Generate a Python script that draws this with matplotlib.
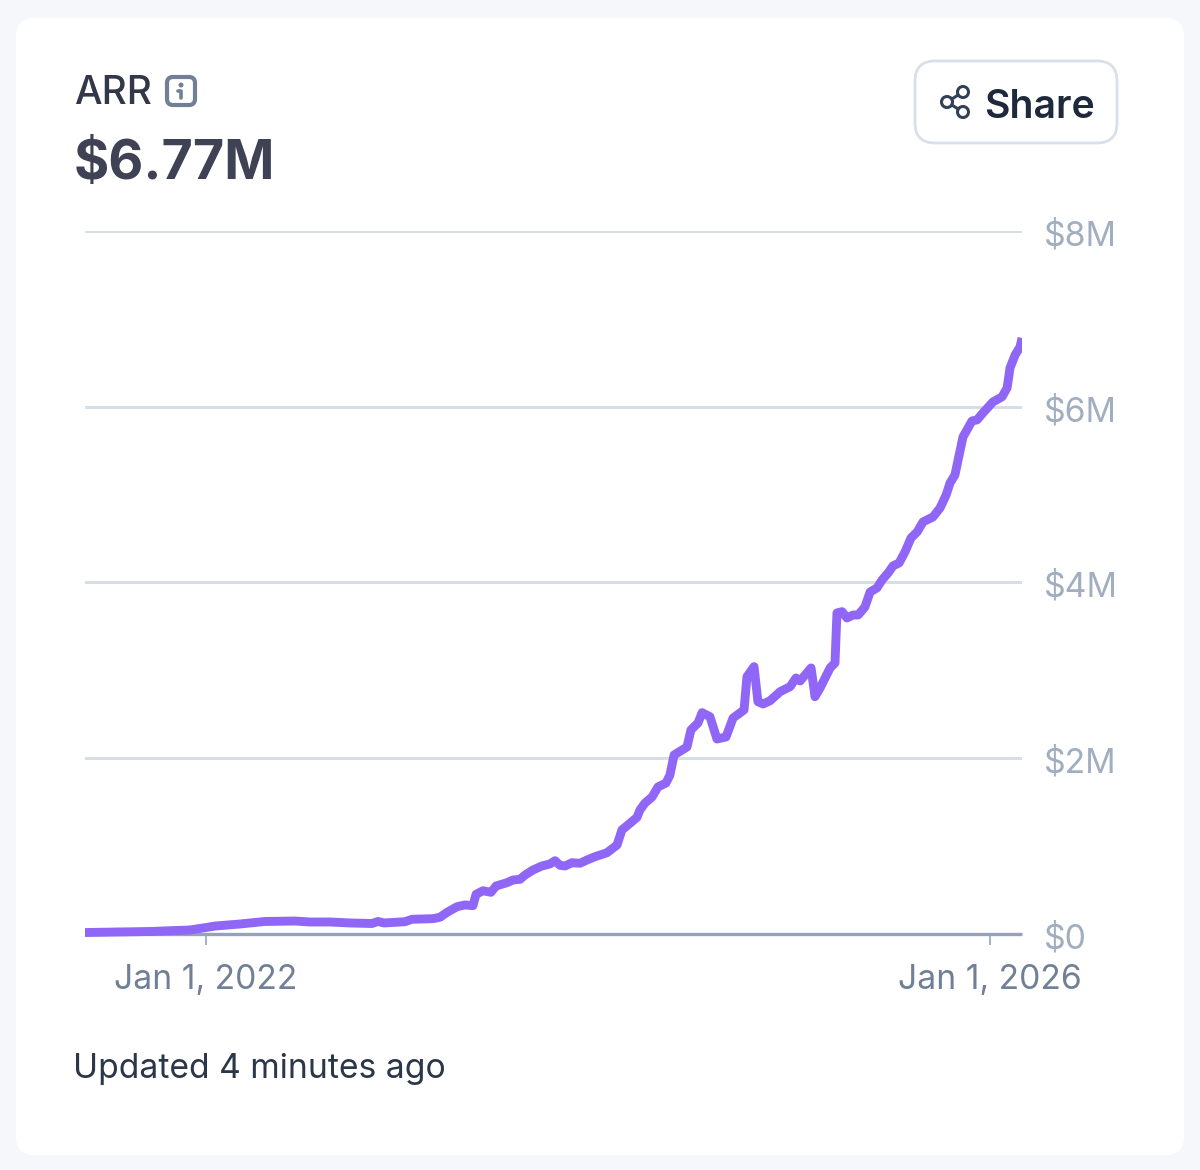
import matplotlib
matplotlib.use('Agg')
import matplotlib.pyplot as plt
from matplotlib.patches import FancyBboxPatch, Circle, Rectangle
from matplotlib.transforms import ScaledTranslation

plt.rcParams['font.family'] = ['Inter', 'DejaVu Sans']

# date as decimal year, ARR in $M
years = [2021.383, 2021.714, 2021.918, 2022.0, 2022.046, 2022.173, 2022.301, 2022.454, 2022.531,
         2022.633, 2022.735, 2022.847, 2022.878, 2022.908, 2023.015, 2023.051, 2023.158, 2023.194,
         2023.230, 2023.281, 2023.321, 2023.362, 2023.378, 2023.413, 2023.454, 2023.480, 2023.536,
         2023.566, 2023.602, 2023.628, 2023.668, 2023.714, 2023.755, 2023.781, 2023.806, 2023.832,
         2023.867, 2023.908, 2023.944, 2023.985, 2024.026, 2024.046, 2024.097, 2024.122, 2024.153,
         2024.199, 2024.214, 2024.240, 2024.276, 2024.306, 2024.347, 2024.367, 2024.388, 2024.454,
         2024.474, 2024.510, 2024.531, 2024.571, 2024.607, 2024.653, 2024.689, 2024.745, 2024.760,
         2024.796, 2024.816, 2024.842, 2024.878, 2024.929, 2024.980, 2025.010, 2025.031, 2025.087,
         2025.107, 2025.133, 2025.184, 2025.209, 2025.219, 2025.245, 2025.270, 2025.301, 2025.327,
         2025.362, 2025.388, 2025.423, 2025.449, 2025.480, 2025.505, 2025.536, 2025.566, 2025.597,
         2025.628, 2025.658, 2025.709, 2025.745, 2025.776, 2025.796, 2025.821, 2025.837, 2025.862,
         2025.908, 2025.934, 2025.964, 2026.015, 2026.061, 2026.087, 2026.102, 2026.128, 2026.153,
         2026.163]
arr = [0.011, 0.023, 0.040, 0.068, 0.085, 0.108, 0.137, 0.142, 0.131,
       0.131, 0.120, 0.114, 0.137, 0.120, 0.134, 0.162, 0.169, 0.185,
       0.241, 0.305, 0.325, 0.317, 0.446, 0.487, 0.469, 0.541, 0.579,
       0.609, 0.617, 0.666, 0.723, 0.769, 0.792, 0.829, 0.777, 0.769,
       0.806, 0.800, 0.837, 0.875, 0.905, 0.920, 1.008, 1.179, 1.236,
       1.323, 1.407, 1.486, 1.555, 1.669, 1.714, 1.805, 2.033, 2.124,
       2.318, 2.397, 2.515, 2.469, 2.215, 2.238, 2.454, 2.546, 2.925,
       3.039, 2.640, 2.614, 2.651, 2.754, 2.811, 2.910, 2.876, 3.024,
       2.697, 2.796, 3.024, 3.081, 3.650, 3.665, 3.593, 3.627, 3.627,
       3.719, 3.889, 3.935, 4.026, 4.106, 4.186, 4.220, 4.345, 4.505,
       4.573, 4.687, 4.744, 4.846, 4.994, 5.131, 5.222, 5.393, 5.655,
       5.837, 5.849, 5.929, 6.054, 6.111, 6.213, 6.441, 6.589, 6.680,
       6.782]

y_ticks = [0, 2, 4, 6, 8]
y_labels = ['$0', '$2M', '$4M', '$6M', '$8M']
x_ticks = [2022, 2026]
x_labels = ['Jan 1, 2022', 'Jan 1, 2026']

W, H = 1200, 1170
fig = plt.figure(figsize=(W / 100, H / 100), dpi=100, facecolor='#f5f7fb')

# full figure overlay in pixels for the card and header
bg = fig.add_axes([0, 0, 1, 1], zorder=0)
bg.set_xlim(0, W)
bg.set_ylim(H, 0)
bg.axis('off')

bg.add_patch(FancyBboxPatch((16, 18), 1168, 1137, boxstyle='round,pad=0,rounding_size=18',
                            fc='white', ec='none'))

bg.text(74, 93.5, 'ARR', fontsize=28, color='#33374a', fontweight='medium', va='center', ha='left')
bg.text(73.5, 164, '$6.77M', fontsize=38.8, color='#3f4254', fontweight='bold', va='center', ha='left')

# info icon
bg.add_patch(FancyBboxPatch((167, 77), 28, 28, boxstyle='round,pad=0,rounding_size=6',
                            fc='white', ec='#718096', lw=3))
bg.add_patch(Circle((181, 85), 2.5, fc='#718096', ec='none'))
bg.plot([178, 181, 181], [91, 91, 98], color='#718096', lw=2.6, solid_capstyle='round')

# share button
bg.add_patch(FancyBboxPatch((915, 61), 202, 82, boxstyle='round,pad=0,rounding_size=20',
                            fc='white', ec='#d8e0e9', lw=2))
bg.plot([963, 947, 963], [92, 102, 112], color='#334155', lw=2.2)
for cx, cy in [(963, 92), (947, 102), (963, 112)]:
    bg.add_patch(Circle((cx, cy), 5.5, fc='white', ec='#334155', lw=2.2, zorder=3))
bg.text(984, 107, 'Share', fontsize=28.2, color='#1e293b', fontweight='semibold', va='center', ha='left')

bg.text(73, 1069, 'Updated 4 minutes ago', fontsize=24.2, color='#2b3648', va='center', ha='left')

# chart
ax = fig.add_axes([85 / W, 1 - 933.5 / H, (1022 - 85) / W, (933.5 - 231) / H], zorder=1)
ax.patch.set_alpha(0)
ax.set_xlim(2021.383, 2026.163)
ax.set_ylim(0, 8)

for side in ['top', 'left', 'right']:
    ax.spines[side].set_visible(False)
ax.spines['bottom'].set_color('#94a3b8')
ax.spines['bottom'].set_linewidth(2.4)
ax.spines['bottom'].set_capstyle('butt')

ax.yaxis.tick_right()
ax.set_yticks(y_ticks)
ax.set_yticklabels(y_labels, fontsize=24.3, color='#a0aec0')
ax.tick_params(axis='y', length=0, pad=16)
ax.grid(axis='y', color='#d5dee7', linewidth=2.1)
ax.set_axisbelow(True)
# labels sit a little under their gridline
shift = ScaledTranslation(0, -2 / 100, fig.dpi_scale_trans)
for lab in ax.get_yticklabels():
    lab.set_transform(lab.get_transform() + shift)

ax.set_xticks(x_ticks)
ax.set_xticklabels(x_labels, fontsize=24.2, color='#718096')
ax.tick_params(axis='x', length=8, width=1.2, color='#94a3b8', pad=14)

line, = ax.plot(years, arr, color='#8f66f5', linewidth=6.4, solid_capstyle='butt',
                solid_joinstyle='round', zorder=5)
# cut the line square at the plot edges but let it overhang the baseline
line.set_clip_path(Rectangle((85, 0), 937, H, transform=bg.transData))

fig.savefig('out.png', dpi=100, facecolor=fig.get_facecolor())
